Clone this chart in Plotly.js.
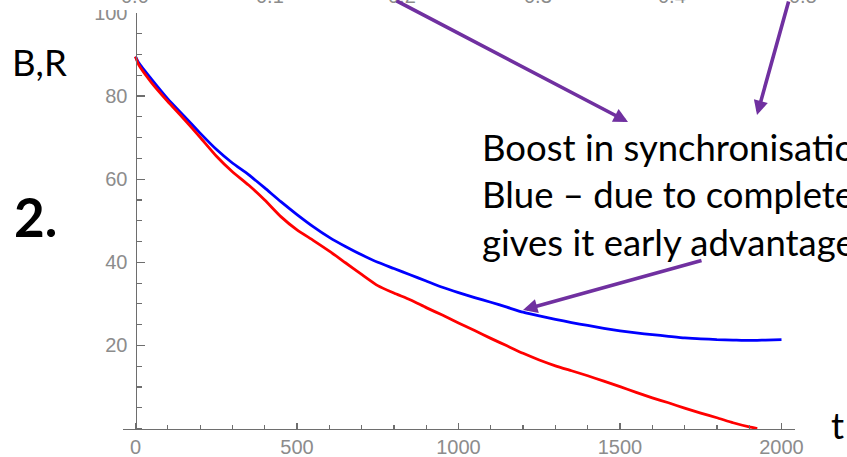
<!DOCTYPE html>
<html>
<head>
<meta charset="utf-8">
<script src="https://cdn.plot.ly/plotly-3.0.1.min.js"></script>
<style>
  html, body { margin: 0; padding: 0; background: #ffffff; }
  #chart { width: 847px; height: 457px; }
</style>
</head>
<body>
<div id="chart"></div>
<script>
// Time steps and the two population curves (B = blue, R = red)
const tBlue = [0, 10, 50, 100, 150, 200, 250, 300, 350, 400, 450, 500, 550, 600, 650, 700,
  750, 800, 850, 900, 950, 1000, 1050, 1100, 1150, 1200, 1250, 1300, 1350, 1400, 1450,
  1500, 1550, 1600, 1650, 1700, 1750, 1800, 1850, 1900, 1950, 2000];
const blueValues = [89.5, 88.0, 84.0, 79.3, 75.2, 71.1, 67.2, 63.9, 61.1, 57.9, 54.6, 51.5,
  48.6, 46.0, 43.8, 41.8, 40.0, 38.5, 37.0, 35.5, 34.0, 32.7, 31.5, 30.4, 29.2, 28.0,
  27.1, 26.3, 25.5, 24.8, 24.1, 23.5, 23.0, 22.6, 22.2, 21.8, 21.6, 21.4, 21.3, 21.2,
  21.3, 21.4];

const tRed = [0, 10, 50, 100, 150, 200, 250, 300, 350, 400, 450, 500, 550, 600, 650, 700,
  750, 800, 850, 900, 950, 1000, 1050, 1100, 1150, 1200, 1250, 1300, 1350, 1400, 1450,
  1500, 1550, 1600, 1650, 1700, 1750, 1800, 1850, 1900, 1925];
const redValues = [89.5, 87.5, 83.2, 78.7, 74.5, 70.1, 65.6, 61.8, 58.6, 55.0, 51.0, 47.8,
  45.3, 42.7, 39.9, 37.1, 34.4, 32.6, 31.0, 29.1, 27.3, 25.4, 23.6, 21.7, 19.9, 18.1,
  16.5, 15.1, 13.9, 12.7, 11.4, 10.1, 8.7, 7.4, 6.2, 4.9, 3.7, 2.6, 1.4, 0.4, 0.0];

// Axis ticks
const xTicks = [0, 500, 1000, 1500, 2000];
const yTicks = [20, 40, 60, 80, 100];
// Labels of the neighbouring plot's axis peeking in at the top edge
const topAxisLabels = ['0.0', '0.1', '0.2', '0.3', '0.4', '0.5'];
const topAxisPx = [135, 270, 402, 538, 672, 803];

// Text on the slide
const noteLines = ['Boost in synchronisation', 'Blue \u2013 due to complete', 'gives it early advantage'];

// Geometry of the plotting area (pixels)
const W = 847, H = 457;
const M = { l: 123, r: 52, t: 13, b: 27 };
const plotW = W - M.l - M.r, plotH = H - M.t - M.b;
const px2x = px => (px - M.l) / plotW;
const py2y = py => (H - M.b - py) / plotH;

const xRange = [-38.7, 2041.8];
const yRange = [-0.35, 100];

const axisGrey = '#6e6e6e';
const labelGrey = '#8c8c8c';
const purple = '#7030A0';
const tickFont = { family: 'Liberation Sans, Arial, sans-serif', size: 20, color: labelGrey };
const slideFont = { family: 'Lato, Open Sans, sans-serif', size: 36.5, color: '#000000' };

const traces = [
  { x: tBlue, y: blueValues, type: 'scatter', mode: 'lines',
    line: { color: '#0000ff', width: 2.8, shape: 'spline', smoothing: 0.5 }, hoverinfo: 'skip' },
  { x: tRed, y: redValues, type: 'scatter', mode: 'lines',
    line: { color: '#ff0000', width: 2.8, shape: 'spline', smoothing: 0.5 }, hoverinfo: 'skip' }
];

const annotations = [];

// partial tick labels at the very top
topAxisLabels.forEach((s, i) => {
  annotations.push({
    xref: 'paper', yref: 'paper', x: px2x(topAxisPx[i]), y: py2y(-4.5),
    text: s, showarrow: false, xanchor: 'center', yanchor: 'middle',
    font: tickFont
  });
});

// slide text
annotations.push({
  xref: 'paper', yref: 'paper', x: px2x(480), y: py2y(123),
  text: noteLines.join('<br>'), showarrow: false, xanchor: 'left', yanchor: 'top',
  align: 'left', font: slideFont
});
annotations.push({
  xref: 'paper', yref: 'paper', x: px2x(10), y: py2y(62),
  text: 'B,R', showarrow: false, xanchor: 'left', yanchor: 'middle', font: slideFont
});
annotations.push({
  xref: 'paper', yref: 'paper', x: px2x(12), y: py2y(216),
  text: '<b>2.</b>', showarrow: false, xanchor: 'left', yanchor: 'middle',
  font: { family: 'Lato, Open Sans, sans-serif', size: 53, color: '#000000' }
});
annotations.push({
  xref: 'paper', yref: 'paper', x: px2x(829), y: py2y(425),
  text: 't', showarrow: false, xanchor: 'left', yanchor: 'middle', font: slideFont
});

// arrows: tip position in paper coords, tail offset in pixels
const arrows = [
  { tip: [628, 122], tail: [395, -3] },
  { tip: [757, 115], tail: [789, -3] },
  { tip: [523, 310], tail: [703, 260] }
];
arrows.forEach(a => {
  annotations.push({
    xref: 'paper', yref: 'paper', x: px2x(a.tip[0]), y: py2y(a.tip[1]),
    ax: a.tail[0] - a.tip[0], ay: a.tail[1] - a.tip[1], axref: 'pixel', ayref: 'pixel',
    text: '', showarrow: true, arrowhead: 2, arrowsize: 0.8, arrowwidth: 3.6,
    arrowcolor: purple, standoff: 0, startstandoff: 0
  });
});

const layout = {
  width: W, height: H,
  margin: M,
  paper_bgcolor: '#ffffff', plot_bgcolor: '#ffffff',
  showlegend: false,
  hovermode: false,
  xaxis: {
    range: xRange, anchor: 'free', position: 0.35 / 100.35,
    showgrid: false, zeroline: false,
    showline: true, linecolor: axisGrey, linewidth: 1.3,
    tickmode: 'array', tickvals: xTicks, ticktext: xTicks.map(String),
    ticks: 'inside', ticklen: 6, tickwidth: 1.3, tickcolor: axisGrey,
    minor: { tickmode: 'linear', tick0: 0, dtick: 100, ticks: 'inside', ticklen: 4,
             tickwidth: 1.2, tickcolor: axisGrey },
    ticklabelstandoff: 0,
    tickfont: tickFont
  },
  yaxis: {
    range: yRange, anchor: 'free', position: (135.5 - M.l) / plotW,
    showgrid: false, zeroline: false,
    showline: true, linecolor: axisGrey, linewidth: 1.3,
    tickmode: 'array', tickvals: yTicks, ticktext: yTicks.map(String),
    ticks: 'inside', ticklen: 8, tickwidth: 1.3, tickcolor: axisGrey,
    minor: { tickmode: 'linear', tick0: 0, dtick: 5, ticks: 'inside', ticklen: 5,
             tickwidth: 1.2, tickcolor: axisGrey },
    ticklabelstandoff: 4,
    tickfont: tickFont
  },
  shapes: [
    // strip of the slide overlapping the top edge of the plot
    { type: 'rect', xref: 'paper', yref: 'paper', x0: -0.3, x1: 1.2,
      y0: py2y(10), y1: py2y(-20), fillcolor: '#ffffff', line: { width: 0 }, layer: 'above' }
  ],
  annotations: annotations
};

Plotly.newPlot('chart', traces, layout, { staticPlot: true, displayModeBar: false });
</script>
</body>
</html>
